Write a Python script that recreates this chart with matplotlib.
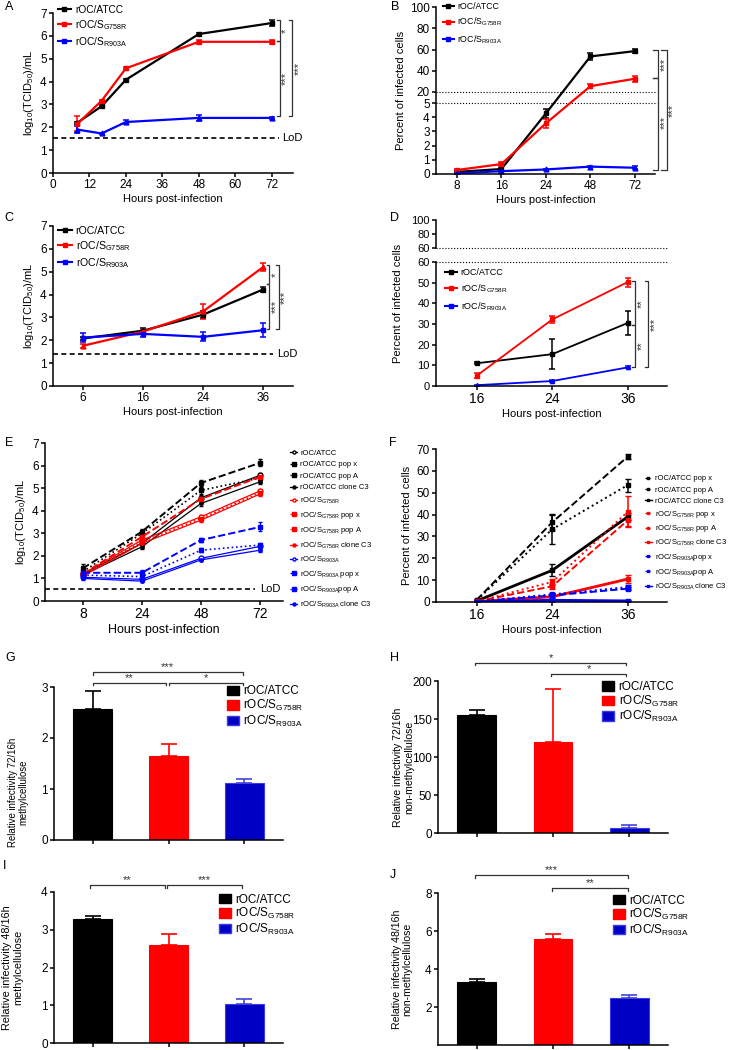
import matplotlib.pyplot as plt
import numpy as np
from matplotlib.lines import Line2D
from matplotlib.patches import Patch

plt.rcParams["font.family"] = ["Liberation Sans", "DejaVu Sans"]
plt.rcParams["mathtext.default"] = "regular"

BLACK = "#000000"
RED = "#FF0000"
BLUE = "#0000FF"
BAR_BLUE = "#0000C4"
BAR_BLUE_EDGE = "#3A3AE8"

STRAINS = ["rOC/ATCC", "rOC/S$_{G758R}$", "rOC/S$_{R903A}$"]
LINE_COLORS = [BLACK, RED, BLUE]

# A: log10 TCID50 with methylcellulose
A_HOURS = [8, 16, 24, 48, 72]
A_ATCC = [2.2, 2.92, 4.08, 6.08, 6.56]
A_ATCC_ERR = [0.04, 0.05, 0.05, 0.04, 0.12]
A_G758R = [2.15, 3.16, 4.58, 5.74, 5.74]
A_G758R_ERR = [0.33, 0.05, 0.04, 0.1, 0.1]
A_R903A = [1.9, 1.73, 2.23, 2.41, 2.41]
A_R903A_ERR = [0.15, 0.03, 0.1, 0.13, 0.03]
A_LOD = 1.53

# B: percent infected cells
B_HOURS = ["8", "16", "24", "48", "72"]
B_ATCC = [0.15, 0.35, 4.27, 53.5, 58.5]
B_ATCC_ERR = [0.03, 0.05, 0.3, 3.0, 2.0]
B_G758R = [0.28, 0.7, 3.57, 25.5, 32.5]
B_G758R_ERR = [0.05, 0.12, 0.3, 2.0, 3.0]
B_R903A = [0.05, 0.2, 0.32, 0.52, 0.44]
B_R903A_ERR = [0.02, 0.03, 0.03, 0.04, 0.12]

# C: log10 TCID50 without methylcellulose
C_HOURS = ["6", "16", "24", "36"]
C_ATCC = [2.08, 2.42, 3.12, 4.22]
C_ATCC_ERR = [0.05, 0.12, 0.15, 0.1]
C_G758R = [1.76, 2.38, 3.26, 5.2]
C_G758R_ERR = [0.08, 0.05, 0.33, 0.18]
C_R903A = [2.12, 2.28, 2.15, 2.44]
C_R903A_ERR = [0.2, 0.12, 0.2, 0.3]
C_LOD = 1.42

# D: percent infected cells without methylcellulose
D_HOURS = ["16", "24", "36"]
D_ATCC = [11.0, 15.4, 30.5]
D_ATCC_ERR = [0.5, 7.2, 6.0]
D_G758R = [5.0, 32.2, 50.3]
D_G758R_ERR = [1.2, 1.5, 2.2]
D_R903A = [0.4, 2.4, 9.0]
D_R903A_ERR = [0.2, 0.3, 0.5]

# E: passaged populations / clones, log10 TCID50
E_HOURS = ["8", "24", "48", "72"]
E_LABELS = [
    "rOC/ATCC", "rOC/ATCC pop x", "rOC/ATCC pop A", "rOC/ATCC clone C3",
    "rOC/S$_{G758R}$", "rOC/S$_{G758R}$ pop x", "rOC/S$_{G758R}$ pop A", "rOC/S$_{G758R}$ clone C3",
    "rOC/S$_{R903A}$", "rOC/S$_{R903A}$ pop x", "rOC/S$_{R903A}$pop A", "rOC/S$_{R903A}$ clone C3",
]
E_VALUES = [
    [1.2, 2.55, 4.57, 5.57], [1.45, 3.07, 5.23, 6.12], [1.3, 2.99, 4.9, 5.45], [1.15, 2.4, 4.32, 5.28],
    [1.2, 2.7, 3.73, 4.88], [1.2, 2.84, 4.52, 5.5], [1.15, 2.62, 3.65, 4.8], [1.1, 2.55, 3.58, 4.74],
    [1.05, 0.96, 1.89, 2.42], [1.25, 1.25, 2.7, 3.28], [1.15, 1.08, 2.25, 2.48], [1.0, 0.88, 1.82, 2.25],
]
E_ERRORS = [
    [0.1, 0.08, 0.12, 0.08], [0.2, 0.12, 0.15, 0.15], [0.1, 0.1, 0.15, 0.1], [0.08, 0.08, 0.12, 0.1],
    [0.08, 0.08, 0.1, 0.08], [0.08, 0.1, 0.1, 0.1], [0.08, 0.08, 0.08, 0.08], [0.08, 0.08, 0.08, 0.1],
    [0.05, 0.05, 0.05, 0.08], [0.08, 0.12, 0.08, 0.2], [0.05, 0.05, 0.08, 0.1], [0.05, 0.05, 0.05, 0.1],
]
E_LOD = 0.55

# F: passaged populations / clones, percent infected cells
F_HOURS = ["16", "24", "36"]
F_LABELS = [
    "rOC/ATCC pop x", "rOC/ATCC pop A", "rOC/ATCC clone C3",
    "rOC/S$_{G758R}$ pop x", "rOC/S$_{G758R}$ pop A", "rOC/S$_{G758R}$ clone C3",
    "rOC/S$_{R903A}$pop x", "rOC/S$_{R903A}$pop A", "rOC/S$_{R903A}$ clone C3",
]
F_VALUES = [
    [1.0, 36.5, 66.5], [0.8, 33.3, 53.5], [0.5, 14.5, 39.0],
    [0.3, 7.2, 37.4], [0.3, 9.2, 41.3], [0.2, 2.4, 10.5],
    [0.2, 3.0, 6.1], [0.2, 3.5, 6.8], [0.1, 0.8, 0.5],
]
F_ERRORS = [
    [0.3, 3.5, 1.0], [0.3, 6.9, 3.0], [0.3, 2.8, 1.5],
    [0.2, 1.2, 2.5], [0.2, 1.5, 7.0], [0.1, 0.5, 2.0],
    [0.1, 0.5, 0.8], [0.1, 0.5, 0.8], [0.1, 0.2, 0.2],
]

# G-J: relative infectivity bars
G_VALUES = [2.57, 1.64, 1.11]
G_ERRORS = [0.36, 0.24, 0.09]
H_VALUES = [155, 120, 6.5]
H_ERRORS = [7, 69.5, 4]
I_VALUES = [3.28, 2.6, 1.03]
I_ERRORS = [0.08, 0.3, 0.14]
J_VALUES = [3.3, 5.6, 2.49]
J_ERRORS = [0.2, 0.26, 0.14]

W, H = 732, 1050
STAR_SIZE = 8


def _rect(left, right, top, bottom):
    return [left / W, 1 - bottom / H, (right - left) / W, (bottom - top) / H]


def _style(ax, xsize=8.5, ysize=8.5):
    for s in ("top", "right"):
        ax.spines[s].set_visible(False)
    for s in ("left", "bottom"):
        ax.spines[s].set_linewidth(1.1)
    ax.tick_params(direction="out", length=3, width=1.1, pad=1.5)
    ax.tick_params(axis="x", labelsize=xsize)
    ax.tick_params(axis="y", labelsize=ysize)


def _growth(ax, x, series, errors, markers, lw=1.6, ms=3.5):
    for y, e, c, m in zip(series, errors, LINE_COLORS, markers):
        ax.errorbar(x, y, yerr=e, color=c, marker=m, ms=ms, lw=lw,
                    capsize=2, elinewidth=1.1, capthick=1.1)


def _legend(ax, labels, colors, anchor, fontsize=7.5, spacing=0.3, handlelength=1.3):
    handles = [Line2D([], [], color=c, marker="s", ms=2.5, lw=1.5) for c in colors]
    ax.legend(handles, labels, loc="upper left", bbox_to_anchor=anchor,
              frameon=False, fontsize=fontsize, labelspacing=spacing,
              handlelength=handlelength, handletextpad=0.4,
              borderpad=0, borderaxespad=0)


def _vbracket(ax, x, y1, y2, text, tick, ytext=None):
    ax.plot([x - tick, x, x, x - tick], [y1, y1, y2, y2], color="#333333",
            lw=0.9, clip_on=False)
    ymid = (y1 + y2) / 2 if ytext is None else ytext
    ax.annotate(text, xy=(x, ymid), xytext=(1.0, 0), textcoords="offset points",
                rotation=90, ha="left", va="center", fontsize=STAR_SIZE,
                color="#333333", annotation_clip=False)


def _hbracket(ax, x1, x2, y, tick, text):
    ax.plot([x1, x1, x2, x2], [y - tick, y, y, y - tick], color="#333333",
            lw=0.9, clip_on=False)
    ax.text((x1 + x2) / 2, y, text, ha="center", va="bottom",
            fontsize=STAR_SIZE, color="#333333")


def _lod(ax, xend, y, xtext):
    ax.plot([ax.get_xlim()[0], xend], [y, y], color="k", lw=1.2, ls=(0, (3, 2)))
    ax.text(xtext, y, "LoD", ha="left", va="center", fontsize=8)


def _bars(ax, values, errors, ylim, ticks, ylabel, leg_anchor, label_size, label_xy):
    x = np.arange(3)
    colors = [BLACK, RED, BAR_BLUE]
    edges = [BLACK, RED, BAR_BLUE_EDGE]
    ecolors = [BLACK, RED, "#4444DD"]
    ax.bar(x, values, width=0.51, color=colors, edgecolor=edges, lw=0.8)
    for xi, v, e, c in zip(x, values, errors, ecolors):
        ax.errorbar([xi], [v], yerr=[[0], [e]], fmt="none", ecolor=c,
                    capsize=6, elinewidth=1.2, capthick=1.2)
    ax.set_xlim(-0.51, 2.51)
    ax.set_ylim(*ylim)
    ax.set_yticks(ticks)
    ax.set_xticks(x)
    ax.set_xticklabels([])
    ax.set_ylabel(ylabel, fontsize=label_size, linespacing=1.15)
    ax.yaxis.set_label_coords(*label_xy)
    _style(ax)
    handles = [Patch(facecolor=c, edgecolor=e) for c, e in zip(colors, edges)]
    ax.legend(handles, STRAINS, loc="upper left", bbox_to_anchor=leg_anchor,
              frameon=False, fontsize=8.5, labelspacing=0.05, handlelength=1.0,
              handleheight=0.85, handletextpad=0.4, borderpad=0, borderaxespad=0)


fig = plt.figure(figsize=(W / 100, H / 100), dpi=100)

# ---- A
ax = fig.add_axes(_rect(53, 293, 13, 173))
_growth(ax, A_HOURS, [A_ATCC, A_G758R, A_R903A],
        [A_ATCC_ERR, A_G758R_ERR, A_R903A_ERR], ["s", "s", "^"])
ax.set_xlim(0, 79)
ax.set_ylim(0, 7)
ax.set_xticks([0, 12, 24, 36, 48, 60, 72])
ax.set_yticks(range(8))
_lod(ax, 74.5, A_LOD, 75.3)
ax.set_xlabel("Hours post-infection", fontsize=8, labelpad=2)
ax.set_ylabel("log$_{10}$(TCID$_{50}$)/mL", fontsize=8, labelpad=3)
_style(ax)
_legend(ax, STRAINS, LINE_COLORS, (0.02, 1.05), fontsize=7.3)
_vbracket(ax, 74.6, 6.71, 5.76, "*", 0.9)
_vbracket(ax, 74.6, 5.76, 2.48, "***", 0.9)
_vbracket(ax, 78.7, 6.71, 2.48, "***", 0.9)

# ---- B (broken axis via piecewise scale)
ax = fig.add_axes(_rect(436, 655, 7, 174))


def _b_fwd(y):
    return np.interp(y, [0, 5, 20, 100], [0, 71, 82, 167])


def _b_inv(p):
    return np.interp(p, [0, 71, 82, 167], [0, 5, 20, 100])


ax.set_yscale("function", functions=(_b_fwd, _b_inv))
bx = np.arange(len(B_HOURS))
_growth(ax, bx, [B_ATCC, B_G758R, B_R903A],
        [B_ATCC_ERR, B_G758R_ERR, B_R903A_ERR], ["s", "s", "^"])
ax.set_ylim(0, 100)
ax.set_xlim(-0.47, 4.45)
ax.set_yticks([0, 1, 2, 3, 4, 5, 20, 40, 60, 80, 100])
ax.set_xticks(bx)
ax.set_xticklabels(B_HOURS)
for yb in (5, 20):
    ax.plot([-0.47, 4.5], [yb, yb], color="k", lw=0.8, ls=":", clip_on=False)
ax.set_xlabel("Hours post-infection", fontsize=8, labelpad=2)
ax.set_ylabel("Percent of infected cells", fontsize=8, labelpad=3)
_style(ax)
_legend(ax, STRAINS, LINE_COLORS, (0.03, 1.03), fontsize=6.3, spacing=0.55)
_vbracket(ax, 4.52, 59.5, 32.9, "***", 0.12)
_vbracket(ax, 4.52, 32.9, 0.28, "***", 0.12, ytext=3.6)
_vbracket(ax, 4.71, 59.5, 0.28, "***", 0.12, ytext=4.5)

# ---- C
ax = fig.add_axes(_rect(53, 293, 226, 386))
cx = np.arange(len(C_HOURS))
_growth(ax, cx, [C_ATCC, C_G758R, C_R903A],
        [C_ATCC_ERR, C_G758R_ERR, C_R903A_ERR], ["s", "^", "s"])
ax.set_xlim(-0.5, 3.5)
ax.set_ylim(0, 7)
ax.set_xticks(cx)
ax.set_xticklabels(C_HOURS)
ax.set_yticks(range(8))
_lod(ax, 3.17, C_LOD, 3.23)
ax.set_xlabel("Hours post-infection", fontsize=8, labelpad=2)
ax.set_ylabel("log$_{10}$(TCID$_{50}$)/mL", fontsize=8, labelpad=3)
_style(ax)
_legend(ax, STRAINS, LINE_COLORS, (0.02, 1.0), fontsize=7.6)
_vbracket(ax, 3.1, 5.28, 4.45, "*", 0.04)
_vbracket(ax, 3.1, 4.45, 2.48, "***", 0.04)
_vbracket(ax, 3.26, 5.28, 2.48, "***", 0.04)

# ---- D (two stacked axes)
ax_top = fig.add_axes(_rect(436, 667, 220, 248))
ax = fig.add_axes(_rect(436, 667, 262, 386))
dx = np.arange(len(D_HOURS))
_growth(ax, dx, [D_ATCC, D_G758R, D_R903A],
        [D_ATCC_ERR, D_G758R_ERR, D_R903A_ERR], ["s", "s", "^"], lw=1.3, ms=3)
ax.set_xlim(-0.54, 2.52)
ax.set_ylim(0, 60)
ax.set_yticks(range(0, 61, 10))
ax.set_xticks(dx)
ax.set_xticklabels(D_HOURS)
ax.axhline(60, color="k", lw=0.8, ls=":", clip_on=False)
ax.set_xlabel("Hours post-infection", fontsize=8, labelpad=2)
_style(ax, xsize=10, ysize=8)
_legend(ax, STRAINS, LINE_COLORS, (0.04, 0.95), fontsize=6.5, spacing=0.6)
_vbracket(ax, 2.1, 50.7, 29.4, "**", 0.04)
_vbracket(ax, 2.1, 29.4, 9.3, "**", 0.04)
_vbracket(ax, 2.27, 50.7, 9.3, "***", 0.04)
ax_top.set_xlim(-0.54, 2.52)
ax_top.set_ylim(60, 100)
ax_top.set_yticks([60, 80, 100])
ax_top.set_xticks([])
ax_top.axhline(60, color="k", lw=0.8, ls=":", clip_on=False)
_style(ax_top, ysize=8)
ax_top.spines["bottom"].set_visible(False)
fig.text(398 / W, 1 - 303 / H, "Percent of infected cells", rotation=90,
         ha="center", va="center", fontsize=8)

# ---- E
ax = fig.add_axes(_rect(45, 283, 443, 601))
ex = np.arange(len(E_HOURS))
e_styles = [("-", "o", 0.9, 3.5, True), ("--", "s", 1.4, 3, False),
            (":", "s", 1.2, 2.5, False), ("-", "o", 0.9, 2.5, False)]
e_colors = []
for i, (vals, errs) in enumerate(zip(E_VALUES, E_ERRORS)):
    ls, mk, lw, ms, hollow = e_styles[i % 4]
    c = LINE_COLORS[i // 4]
    e_colors.append(c)
    ax.errorbar(ex, vals, yerr=errs, color=c, ls=ls, marker=mk, ms=ms, lw=lw,
                mfc="white" if hollow else c, capsize=1.5, elinewidth=0.9)
ax.set_xlim(-0.64, 3.39)
ax.set_ylim(0, 7)
ax.set_xticks(ex)
ax.set_xticklabels(E_HOURS)
ax.set_yticks(range(8))
_lod(ax, 2.92, E_LOD, 3.0)
ax.set_xlabel("Hours post-infection", fontsize=9, labelpad=2)
ax.set_ylabel("log$_{10}$(TCID$_{50}$)/mL", fontsize=8, labelpad=3)
_style(ax, xsize=10)
handles = []
for i, c in enumerate(e_colors):
    ls, mk, lw, ms, hollow = e_styles[i % 4]
    handles.append(Line2D([], [], color=c, ls=ls, marker=mk, ms=2.2, lw=0.9,
                          mfc="white" if hollow else c))
ax.legend(handles, E_LABELS, loc="upper left", bbox_to_anchor=(1.03, 0.96),
          frameon=False, fontsize=5.5, labelspacing=0.55, handlelength=0.9,
          handletextpad=0.4, borderpad=0, borderaxespad=0)

# ---- F
ax = fig.add_axes(_rect(436, 667, 449, 602))
fx = np.arange(len(F_HOURS))
f_styles = [("--", 1.4), (":", 1.4), ("-", 2.0)]
f_colors = []
for i, (vals, errs) in enumerate(zip(F_VALUES, F_ERRORS)):
    ls, lw = f_styles[i % 3]
    c = LINE_COLORS[i // 3]
    f_colors.append(c)
    ax.errorbar(fx, vals, yerr=errs, color=c, ls=ls, marker="s", ms=3, lw=lw,
                capsize=2, elinewidth=1.1)
ax.set_xlim(-0.54, 2.52)
ax.set_ylim(0, 70)
ax.set_xticks(fx)
ax.set_xticklabels(F_HOURS)
ax.set_yticks(range(0, 71, 10))
ax.set_xlabel("Hours post-infection", fontsize=8, labelpad=2)
ax.set_ylabel("Percent of infected cells", fontsize=8, labelpad=3)
_style(ax, xsize=10)
handles = [Line2D([], [], color=c, ls=f_styles[i % 3][0], marker="s", ms=2,
                  lw=1.0) for i, c in enumerate(f_colors)]
ax.legend(handles, F_LABELS, loc="upper left", bbox_to_anchor=(0.905, 0.83),
          frameon=False, fontsize=5.5, labelspacing=0.5, handlelength=0.9,
          handletextpad=0.4, borderpad=0, borderaxespad=0)

# ---- G
ax = fig.add_axes(_rect(54, 283, 687, 840))
_bars(ax, G_VALUES, G_ERRORS, (0, 3), [0, 1, 2, 3],
      "Relative infectivity 72/16h\nmethylcellulose", (0.755, 1.01),
      6.9, (-0.11, 0.31))
_hbracket(ax, 0, 1.98, 3.29, 0.05, "***")
_hbracket(ax, 0, 0.97, 3.08, 0.05, "**")
_hbracket(ax, 1.01, 1.98, 3.08, 0.05, "*")

# ---- H
ax = fig.add_axes(_rect(438, 668, 681, 833))
_bars(ax, H_VALUES, H_ERRORS, (0, 200), [0, 50, 100, 150, 200],
      "Relative infectivity 72/16h\nnon-methylcellulose", (0.713, 1.0),
      7.6, (-0.105, 0.43))
_hbracket(ax, -0.02, 1.96, 224, 3, "*")
_hbracket(ax, 0.98, 1.96, 209, 3, "*")

# ---- I
ax = fig.add_axes(_rect(54, 283, 892, 1043))
_bars(ax, I_VALUES, I_ERRORS, (0, 4), [0, 1, 2, 3, 4],
      "Relative infectivity 48/16h\nmethylcellulose", (0.72, 0.99),
      7.8, (-0.135, 0.5))
_hbracket(ax, -0.04, 0.96, 4.18, 0.07, "**")
_hbracket(ax, 0.98, 1.97, 4.18, 0.07, "***")

# ---- J
ax = fig.add_axes(_rect(438, 668, 893, 1045))
_bars(ax, J_VALUES, J_ERRORS, (0, 8), [2, 4, 6, 8],
      "Relative infectivity 48/16h\nnon-methylcellulose", (0.76, 0.99),
      7.6, (-0.11, 0.5))
_hbracket(ax, -0.03, 1.99, 8.94, 0.14, "***")
_hbracket(ax, 0.99, 1.99, 8.26, 0.14, "**")

# panel letters
for letter, (px, py) in {
    "A": (5, 7), "B": (391, 7), "C": (4, 218), "D": (390, 218),
    "E": (5, 443), "F": (389, 443), "G": (5, 658), "H": (390, 658),
    "I": (3, 866), "J": (390, 875),
}.items():
    fig.text(px / W, 1 - py / H, letter, ha="left", va="center", fontsize=9)

fig.savefig("out.png", dpi=100)
